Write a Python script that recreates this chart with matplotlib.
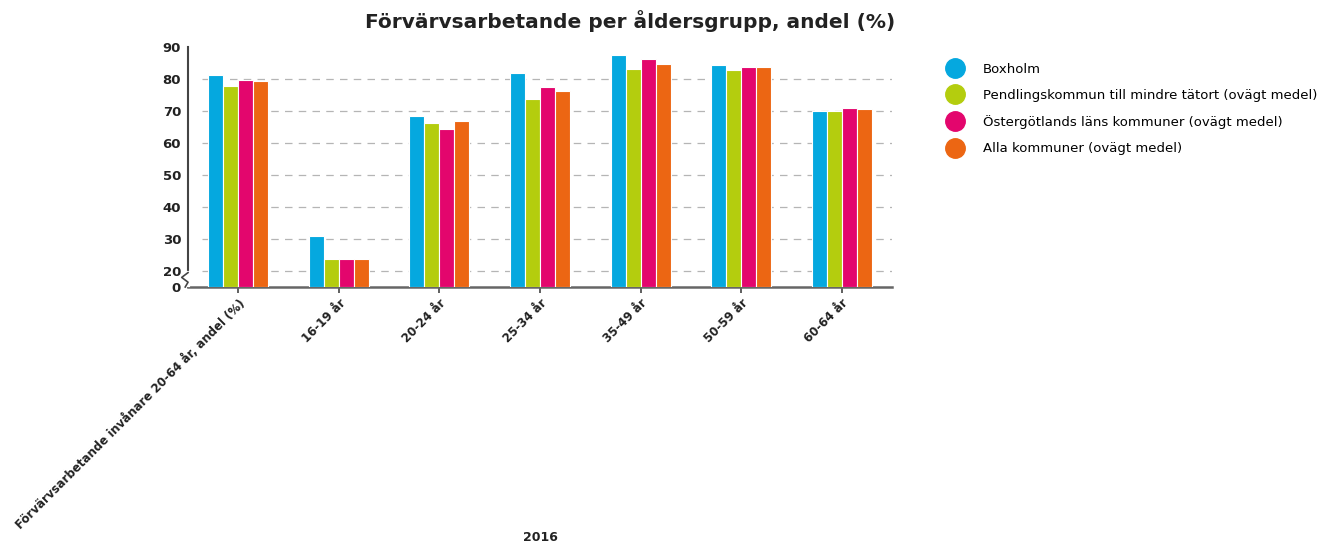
import numpy as np
import matplotlib.pyplot as plt
from matplotlib.lines import Line2D
from matplotlib.transforms import blended_transform_factory

categories = ['Förvärvsarbetande invånare 20-64 år, andel (%)', '16-19 år', '20-24 år',
              '25-34 år', '35-49 år', '50-59 år', '60-64 år']
series_names = ['Boxholm', 'Pendlingskommun till mindre tätort (ovägt medel)',
                'Östergötlands läns kommuner (ovägt medel)', 'Alla kommuner (ovägt medel)']
boxholm = [81.3, 31.0, 68.3, 81.9, 87.5, 84.3, 70.0]
pendling = [77.8, 23.9, 66.1, 73.9, 83.0, 82.7, 70.0]
ostergotland = [79.8, 23.9, 64.5, 77.4, 86.1, 83.9, 70.9]
alla = [79.4, 23.9, 67.0, 76.3, 84.8, 83.6, 70.6]
colors = ['#05A8DF', '#B4CD0E', '#E3066D', '#EC6613']
yticks = [0, 20, 30, 40, 50, 60, 70, 80, 90]


# broken axis: 0-20 squeezed, linear above 20
def fwd(y):
    y = np.asarray(y, dtype=float)
    return np.where(y < 20, y / 4.0, y - 15.0)


def inv(y):
    y = np.asarray(y, dtype=float)
    return np.where(y < 5, y * 4.0, y + 15.0)


fig = plt.figure(figsize=(13.27, 5.47), dpi=100)
ax = fig.add_axes([0.1417, 0.4753, 0.5305, 0.4388])
ax.set_yscale('function', functions=(fwd, inv))

x = np.arange(len(categories))
slot = 0.149
for i, (vals, col) in enumerate(zip([boxholm, pendling, ostergotland, alla], colors)):
    ax.bar(x + (i - 1.5) * slot, vals, width=slot, color=col, edgecolor='white',
           linewidth=0.8, zorder=3)

ax.set_xlim(-0.5, 6.5)
ax.set_ylim(0, 90)
ax.hlines([20, 30, 40, 50, 60, 70, 80], -0.36, 6.5,
          colors='#b5b5b5', linestyles=(0, (6, 5)), linewidth=0.9, zorder=1)

ax.set_yticks(yticks)
ax.set_yticklabels([str(t) for t in yticks], fontsize=9.5, fontweight='bold', color='#222222')
ax.tick_params(axis='y', length=0, pad=5)
ax.set_xticks(x)
ax.set_xticklabels(categories, rotation=45, ha='right', rotation_mode='anchor',
                   fontsize=8.5, fontweight='bold', color='#222222')
ax.tick_params(axis='x', length=4, width=1.2, color='#444444', pad=3)

for s in ['top', 'right']:
    ax.spines[s].set_visible(False)
ax.spines['left'].set_color('#444444')
ax.spines['left'].set_linewidth(1.5)
ax.spines['bottom'].set_color('#666666')
ax.spines['bottom'].set_linewidth(1.8)

# break mark on y axis
tr = blended_transform_factory(ax.transAxes, ax.transData)
ax.plot([0, 0], [3, 18], transform=tr, color='white', lw=3, clip_on=False, zorder=5)
ax.plot([0, -0.009, 0.0, -0.004], [18, 12, 6, 0], transform=tr, color='#444444',
        lw=1.2, clip_on=False, zorder=6)

fig.text(0.475, 0.962, 'Förvärvsarbetande per åldersgrupp, andel (%)', ha='center',
         va='center', fontsize=14.5, fontweight='bold', color='#222222')
fig.text(0.407, 0.018, '2016', ha='center', va='center', fontsize=9, fontweight='bold',
         color='#222222')

handles = [Line2D([], [], marker='o', linestyle='none', markersize=14, color=c) for c in colors]
fig.legend(handles, series_names, loc='upper left', bbox_to_anchor=(0.706, 0.895),
           frameon=False, fontsize=9.5, labelspacing=1.0, handletextpad=1.1,
           borderaxespad=0)

fig.savefig('out.png', dpi=100)
